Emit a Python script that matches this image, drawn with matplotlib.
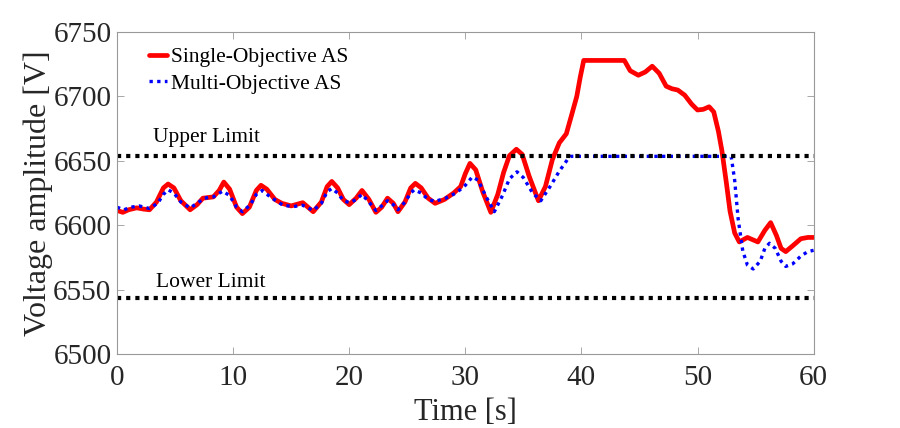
import numpy as np
import matplotlib
matplotlib.use("Agg")
import matplotlib.pyplot as plt

plt.rcParams["font.family"] = ["Liberation Serif", "DejaVu Serif"]

# Single-objective AS voltage trace
t_single = [0, 0.5, 1.0, 1.7, 2.3, 2.8, 3.4, 4.0, 4.4, 4.9, 5.5, 6.3, 6.9, 7.4, 8.3,
            8.8, 9.2, 9.7, 10.3, 10.8, 11.4, 12.0, 12.4, 12.9, 13.6, 14.2, 15.0, 16.0,
            16.9, 17.6, 18.1, 18.5, 19.0, 19.5, 20.0, 20.6, 21.1, 21.7, 22.3, 22.8,
            23.3, 23.8, 24.2, 24.8, 25.3, 25.7, 26.2, 26.8, 27.4, 28.2, 29.0, 29.6,
            30.0, 30.4, 30.9, 31.5, 32.2, 32.8, 33.3, 33.8, 34.4, 34.9, 35.5, 36.3,
            36.9, 37.5, 38.1, 38.7, 39.2, 39.6, 39.9, 40.2, 43.7, 44.2, 44.9, 45.5,
            46.1, 46.7, 47.3, 47.8, 48.3, 48.9, 49.5, 50.0, 50.5, 51.0, 51.4, 51.8,
            52.1, 52.5, 52.8, 53.2, 53.6, 54.3, 55.2, 55.8, 56.3, 56.8, 57.2, 57.6,
            58.2, 58.9, 59.5, 60]
v_single = [6611.5, 6610, 6612, 6613.5, 6612.5, 6612, 6618, 6629, 6632, 6629, 6619,
            6612, 6616, 6621, 6622, 6627, 6633.5, 6628, 6614, 6609, 6614, 6627, 6631,
            6628, 6620, 6617, 6615, 6617.5, 6610.5, 6618, 6630, 6634, 6629, 6620, 6616,
            6621, 6627, 6620, 6610, 6614, 6621, 6617, 6610.5, 6618, 6629, 6632.5, 6629,
            6621, 6617, 6620, 6625, 6630, 6640, 6648, 6643, 6626, 6610, 6624, 6641,
            6654, 6659, 6655, 6638, 6619, 6630, 6651, 6664, 6671, 6687, 6700, 6715,
            6728, 6728, 6720, 6716.5, 6719, 6723.5, 6718, 6708, 6706, 6705, 6701,
            6694, 6689.5, 6690, 6692, 6688, 6673, 6658, 6632, 6611, 6594, 6587,
            6590.5, 6587, 6596, 6602, 6592, 6582, 6579.5, 6584, 6589.5, 6590.5, 6590.5]

# Multi-objective AS voltage trace
t_multi = [0, 0.6, 1.2, 1.9, 2.8, 3.5, 4.0, 4.4, 4.9, 5.5, 6.3, 6.9, 7.5, 8.3, 9.1,
           9.7, 10.3, 10.8, 11.5, 12.0, 12.5, 13.2, 14.3, 15.2, 16.0, 16.9, 17.6,
           18.1, 18.5, 19.0, 19.5, 20.05, 20.6, 21.1, 21.7, 22.3, 22.8, 23.3, 23.8,
           24.2, 24.8, 25.3, 25.6, 26.2, 26.8, 27.4, 28.3, 29.2, 30.0, 30.6, 31.1,
           31.8, 32.5, 33.2, 33.8, 34.45, 35.0, 35.8, 36.5, 37.3, 38.1, 38.8, 39.1,
           52.9, 53.2, 53.5, 53.9, 54.3, 54.8, 55.4, 55.8, 56.2, 56.7, 57.2, 57.6,
           58.2, 58.9, 59.5, 60]
v_multi = [6614, 6612, 6614, 6615, 6613, 6617, 6624, 6627.5, 6625, 6618, 6613.5,
           6617, 6621, 6622, 6626.5, 6623, 6614, 6610.5, 6616, 6624, 6627, 6622,
           6615.5, 6614.5, 6615.5, 6611.5, 6617, 6626, 6628.5, 6625, 6619, 6617.5,
           6620, 6624, 6618, 6611.5, 6615, 6619, 6616, 6612, 6618, 6625, 6627.5,
           6625, 6620, 6618.5, 6621, 6625, 6631, 6637.5, 6635, 6622, 6610.5, 6623,
           6636, 6641.5, 6637, 6625, 6619, 6630, 6642, 6651, 6653.5, 6653.5, 6635,
           6605, 6580, 6569, 6566, 6572, 6582, 6586, 6582, 6572, 6568, 6570, 6576,
           6579.5, 6580.5]

upper_limit = 6654
lower_limit = 6543.5
x_ticks = [0, 10, 20, 30, 40, 50, 60]
y_ticks = [6500, 6550, 6600, 6650, 6700, 6750]

fig = plt.figure(figsize=(9, 4.28), dpi=100)
ax = fig.add_axes([0.130, 0.173, 0.774, 0.752])

ax.plot(t_single, v_single, color="red", lw=3.4, label="Single-Objective AS",
        solid_joinstyle="round", solid_capstyle="round")
ax.plot(t_multi, v_multi, color="blue", lw=2.4, linestyle=(0, (1, 1.3)),
        label="Multi-Objective AS")
ax.axhline(upper_limit, color="black", lw=3.0, linestyle=(0, (1, 1.2)))
ax.axhline(lower_limit, color="black", lw=3.0, linestyle=(0, (1, 1.2)))

ax.text(3.1, 6665, "Upper Limit", fontsize=15.5, color="black")
ax.text(3.4, 6552, "Lower Limit", fontsize=15.5, color="black")

ax.set_xlim(0, 60)
ax.set_ylim(6500, 6750)
ax.set_xticks(x_ticks)
ax.set_yticks(y_ticks)
ax.tick_params(direction="in", length=5, width=0.6, colors="#999999",
               labelcolor="#262626", labelsize=21, top=True, right=True)
ax.tick_params(axis="x", pad=8)
ax.tick_params(axis="y", pad=4)
for sp in ax.spines.values():
    sp.set_color("#999999")
    sp.set_linewidth(0.8)

ax.set_xlabel("Time [s]", fontsize=22, color="#262626", labelpad=5)
ax.set_ylabel("Voltage amplitude [V]", fontsize=23, color="#262626", labelpad=0)

ax.legend(loc="upper left", frameon=False, fontsize=15.5, handlelength=0.8,
          handletextpad=0.2, labelspacing=0.3, borderaxespad=0.3,
          bbox_to_anchor=(0.025, 1.0))

fig.savefig("out.png", dpi=100)
